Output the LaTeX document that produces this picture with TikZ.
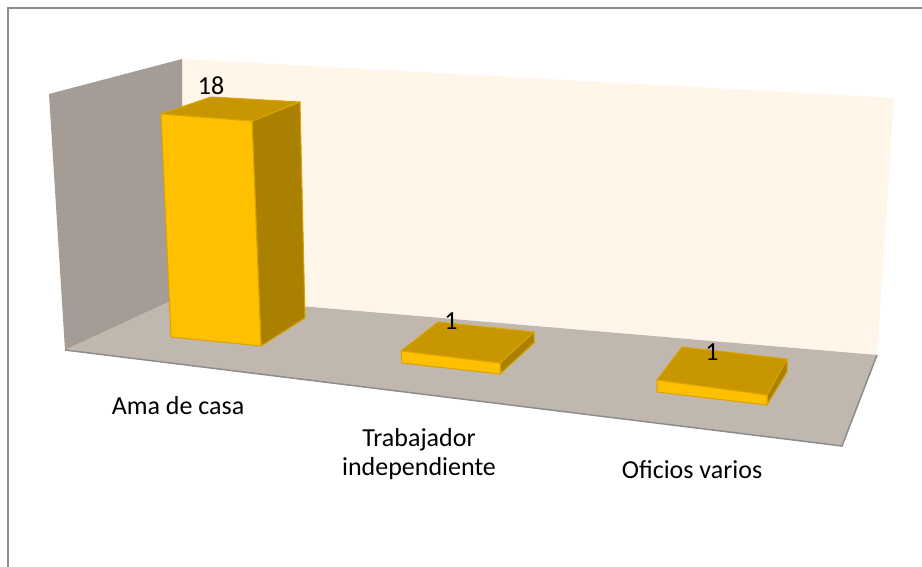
\documentclass[tikz,border=0pt]{standalone}
\usepackage{fontspec}
\setmainfont{Carlito}
\definecolor{sidewall}{HTML}{A59C96}
\definecolor{floorc}{HTML}{C0B8AF}
\definecolor{backwall}{HTML}{FFF5E8}
\definecolor{barfront}{HTML}{FFC000}
\definecolor{bartop}{HTML}{C79600}
\definecolor{barside}{HTML}{A98000}
\definecolor{baredge}{HTML}{D9A300}
\definecolor{rim}{HTML}{8C8C8C}
\begin{document}
\begin{tikzpicture}[x=1pt,y=-1pt,
	bar/.style={draw=baredge,line width=1pt,line join=round},
	valor/.style={font=\fontsize{26}{28.5}\selectfont,inner sep=0pt},
	categoria/.style={font=\fontsize{26}{28.5}\selectfont,align=center,anchor=base,inner sep=0pt}]
				\useasboundingbox (0,0) rectangle (922,567);
				% frame
				\draw[color=rim,line width=1.5pt] (8,567) -- (8,8) -- (922,8);
				% walls and floor
				\fill[color=backwall] (182,59) -- (894,98) -- (877,355) -- (182,296) -- cycle;
				\fill[color=sidewall] (49,94) -- (182,59) -- (182,296) -- (65,350) -- cycle;
				\fill[color=floorc] (65,350) -- (182,296) -- (877,355) -- (842,446) -- cycle;
				\draw[color=rim,line width=1.5pt] (65,350) -- (842,446) -- (877,355);
				% Ama de casa
				\draw[bar,fill=barside] (252,121) -- (300,102) -- (305,318) -- (261,346) -- cycle;
				\draw[bar,fill=bartop] (161,114) -- (211,97) -- (300,102) -- (252,121) -- cycle;
				\draw[bar,fill=barfront] (161,114) -- (252,121) -- (261,346) -- (171,337) -- cycle;
				% Trabajador independiente
				\draw[bar,fill=barside] (500,363) -- (534,332) -- (534,343) -- (500,374) -- cycle;
				\draw[bar,fill=bartop] (401,351) -- (438,322) -- (534,332) -- (500,363) -- cycle;
				\draw[bar,fill=barfront] (401,351) -- (500,363) -- (500,374) -- (402,363) -- cycle;
				% Oficios varios
				\draw[bar,fill=barside] (767,395) -- (787,359) -- (787,372) -- (767,405) -- cycle;
				\draw[bar,fill=bartop] (657,380) -- (682,347) -- (787,359) -- (767,395) -- cycle;
				\draw[bar,fill=barfront] (657,380) -- (767,395) -- (767,405) -- (657,392) -- cycle;
				% values
				\node[valor] (v1) at (211,86) {18};
				\node[valor] (v2) at (451,321) {1};
				\node[valor] (v3) at (712,352) {1};
				% categories
				\node[categoria] (c1) at (178,414) {Ama de casa};
				\node[categoria] (c2) at (419,475) {Trabajador\\independiente};
				\node[categoria] (c3) at (692,478) {Oficios varios};
			\end{tikzpicture}
\end{document}
